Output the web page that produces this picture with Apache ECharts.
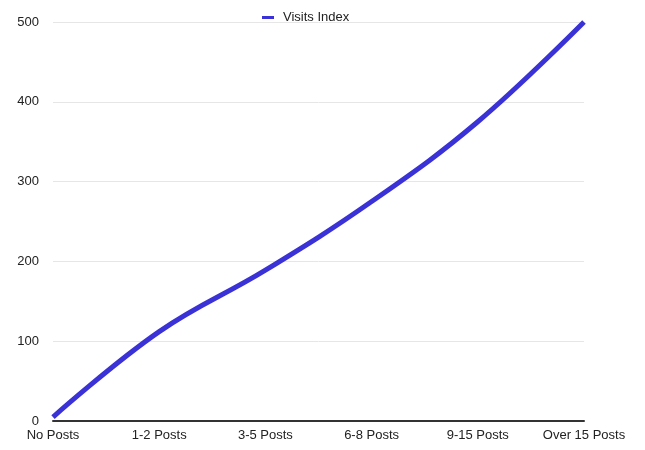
<!DOCTYPE html>
<html>
<head>
<meta charset="utf-8">
<script src="https://cdn.jsdelivr.net/npm/echarts@6/dist/echarts.min.js"></script>
<style>html,body{margin:0;padding:0;background:#fff}#c{width:645px;height:450px}</style>
</head>
<body>
<div id="c"></div>
<script>
const categories = ["No Posts", "1-2 Posts", "3-5 Posts", "6-8 Posts", "9-15 Posts", "Over 15 Posts"];
const visitsIndex = [5, 112, 189, 275, 375, 500];
const yTicks = { min: 0, max: 500, interval: 100 };

const chart = echarts.init(document.getElementById('c'), null, { renderer: 'canvas' });
chart.setOption({
  animation: false,
  textStyle: { fontFamily: 'Liberation Sans, Arial, sans-serif' },
  legend: {
    top: 6, left: 257,
    icon: 'rect', itemWidth: 12, itemHeight: 3, itemGap: 6,
    textStyle: { fontSize: 13, color: '#222', padding: [0, 0, 0, 4] },
    data: ['Visits Index']
  },
  grid: { left: 53, right: 61, top: 22, bottom: 29, containLabel: false },
  xAxis: {
    type: 'category', data: categories, boundaryGap: false,
    axisLine: { lineStyle: { color: '#333', width: 2 } },
    axisTick: { show: false },
    axisLabel: { color: '#222', fontSize: 13, margin: 8, interval: 0 },
    splitLine: { show: false }
  },
  yAxis: {
    type: 'value', min: yTicks.min, max: yTicks.max, interval: yTicks.interval,
    axisLine: { show: false }, axisTick: { show: false },
    axisLabel: { color: '#222', fontSize: 13, margin: 14 },
    splitLine: { lineStyle: { color: '#e6e6e6', width: 1 } }
  },
  series: [{
    name: 'Visits Index', type: 'line', data: visitsIndex, smooth: 0.4,
    showSymbol: false, symbol: 'none',
    lineStyle: { color: '#3a32d6', width: 5 },
    itemStyle: { color: '#3a32d6' }
  }]
});
</script>
</body>
</html>
